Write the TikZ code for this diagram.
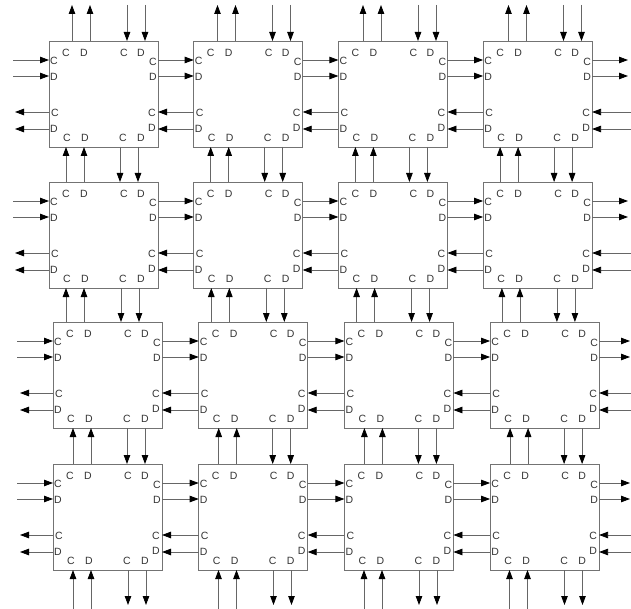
\documentclass[tikz,border=0pt]{standalone}
\usepackage{fontspec}
\newfontfamily\lblfont{Liberation Sans}
\usetikzlibrary{arrows.meta}
\begin{document}
\begin{tikzpicture}[x=1pt,y=-1pt,
  box/.style={draw=black!55,line width=0.9pt,minimum width=109pt,minimum height=106pt,inner sep=0pt,outer sep=0pt},
  lbl/.style={font=\lblfont\fontsize{10.5}{11}\selectfont,inner sep=0pt,text=black!80},
  arr/.style={draw=black!60,line width=0.8pt,-{Triangle[length=9pt,width=6.5pt,color=black]}}]
\useasboundingbox[fill=white] (0,0) rectangle (631,609);
% boxes and port labels
\foreach \rr/\T/\Lz/\P in {0/41/49/144.7,1/182/49/144.7,2/322/53/145.7,3/464/53/145.7}{
  \foreach \cc in {0,1,2,3}{
    \pgfmathsetmacro\L{\Lz+\cc*\P}
    \node[box] (b\rr\cc) at ({\L+54.5},{\T+53}) {};
    \foreach \dx/\dy/\tx [count=\kk] in {17/12/C,35/12/D,75/12/C,92/12/D,18/97/C,36/97/D,74/97/C,92/97/D,5/20/C,5/36/D,6/72/C,5/88/D,104/21/C,104/36/D,103/72/C,103/87/D}
      \node[lbl] (l\rr\cc-\kk) at ({\L+\dx},{\T+\dy}) {\tx};
  }
}
% horizontal connectors
\foreach \rr/\T/\xl/\xL/\xr in {0/41/13/15/628,1/182/13/15/628,2/322/17/20/630,3/464/17/20/630}{
  \foreach \dy [count=\kk] in {19,35,71,88}{
    \coordinate (hy) at (0,{\T+\dy});
    \ifnum\kk<3
      \coordinate (hl\rr-\kk) at (\xl,{\T+\dy});
      \coordinate (hr\rr-\kk) at (\xr,{\T+\dy});
      \draw[arr] (hl\rr-\kk) -- (b\rr0.west |- hy);
      \foreach \cc/\nn in {0/1,1/2,2/3}
        \draw[arr] (b\rr\cc.east |- hy) -- (b\rr\nn.west |- hy);
      \draw[arr] (b\rr3.east |- hy) -- (hr\rr-\kk);
    \else
      \coordinate (hl\rr-\kk) at (\xL,{\T+\dy});
      \coordinate (hr\rr-\kk) at (631,{\T+\dy});
      \draw[arr] (b\rr0.west |- hy) -- (hl\rr-\kk);
      \foreach \cc/\nn in {0/1,1/2,2/3}
        \draw[arr] (b\rr\nn.west |- hy) -- (b\rr\cc.east |- hy);
      \draw[arr] (hr\rr-\kk) -- (b\rr3.east |- hy);
    \fi
  }
}
% vertical connectors: top edge
\foreach \cc in {0,1,2,3}{
  \foreach \bx [count=\kk] in {72,90,127,145}{
    \pgfmathsetmacro\X{\bx+\cc*145.5}
    \coordinate (vx) at (\X,0);
    \coordinate (vt\cc-\kk) at (\X,5);
    \ifnum\kk<3
      \draw[arr] (vx |- b0\cc.north) -- (vt\cc-\kk);
    \else
      \draw[arr] (vt\cc-\kk) -- (vx |- b0\cc.north);
    \fi
  }
}
% vertical connectors between rows
\foreach \ru/\rd/\xa/\xb/\xc/\xd/\P in {0/1/66/84/120/138/144.7,1/2/66/84/121/139/145.3,2/3/73/91/127/145/145.7}{
  \foreach \cc in {0,1,2,3}{
    \foreach \bx [count=\kk] in {\xa,\xb,\xc,\xd}{
      \pgfmathsetmacro\X{\bx+\cc*\P}
      \coordinate (vx) at (\X,0);
      \ifnum\kk<3
        \draw[arr] (vx |- b\rd\cc.north) -- (vx |- b\ru\cc.south);
      \else
        \draw[arr] (vx |- b\ru\cc.south) -- (vx |- b\rd\cc.north);
      \fi
    }
  }
}
% vertical connectors: bottom edge
\foreach \cc in {0,1,2,3}{
  \foreach \bx [count=\kk] in {73,91,128,146}{
    \pgfmathsetmacro\X{\bx+\cc*145.5}
    \coordinate (vx) at (\X,0);
    \ifnum\kk<3
      \coordinate (vb\cc-\kk) at (\X,609);
      \draw[arr] (vb\cc-\kk) -- (vx |- b3\cc.south);
    \else
      \coordinate (vb\cc-\kk) at (\X,605);
      \draw[arr] (vx |- b3\cc.south) -- (vb\cc-\kk);
    \fi
  }
}
\end{tikzpicture}
\end{document}
